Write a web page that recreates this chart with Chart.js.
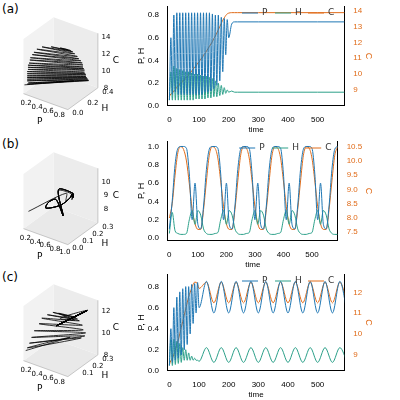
<!DOCTYPE html>
<html><head><meta charset="utf-8">
<script src="https://cdn.jsdelivr.net/npm/chart.js@4/dist/chart.umd.min.js"></script>
<style>
body{margin:0;width:400px;height:400px;background:#fff;position:relative;font-family:"DejaVu Sans";overflow:hidden}
canvas{position:absolute}
.lab{position:absolute;font-size:12px;color:#000}
</style></head><body>
<div class="lab" style="left:2px;top:2px">(a)</div>
<div class="lab" style="left:2px;top:137px">(b)</div>
<div class="lab" style="left:2px;top:270px">(c)</div>
<canvas id="p3a" style="left:2px;top:10px" width="136" height="120"></canvas>
<canvas id="p3b" style="left:2px;top:145px" width="136" height="120"></canvas>
<canvas id="p3c" style="left:2px;top:277px" width="136" height="120"></canvas>
<canvas id="tsa" style="left:136px;top:0" width="238" height="135"></canvas>
<canvas id="tsb" style="left:136px;top:135px" width="238" height="135"></canvas>
<canvas id="tsc" style="left:136px;top:268px" width="238" height="132"></canvas>
<script>
// ---- data (a) ----
const tA=[0,5,10,15,20,25,30,35,40,45,50,55,60,65,70,75,80,85,90,95,100,105,110,115,120,125,130,135,140,145,150,155,160,165,170,175,180,185,190,195,200,210,220,230,300,400,500,600];
const PA=[0.05,0.6,0.1,0.8,0.12,0.82,0.1,0.82,0.1,0.82,0.1,0.82,0.1,0.82,0.1,0.82,0.1,0.82,0.1,0.82,0.1,0.82,0.1,0.82,0.12,0.82,0.12,0.82,0.13,0.81,0.15,0.8,0.18,0.8,0.22,0.78,0.3,0.77,0.45,0.76,0.6,0.72,0.74,0.74,0.74,0.74,0.74,0.74];
const HA=[0.05,0.3,0.05,0.35,0.05,0.33,0.05,0.32,0.05,0.31,0.05,0.3,0.05,0.3,0.05,0.29,0.05,0.28,0.06,0.28,0.06,0.27,0.06,0.26,0.06,0.26,0.07,0.25,0.07,0.24,0.08,0.22,0.08,0.2,0.09,0.18,0.1,0.16,0.11,0.14,0.12,0.13,0.12,0.12,0.12,0.12,0.12,0.12];
const CA=[8.6,8.75,8.8,8.95,9.0,9.2,9.2,9.4,9.4,9.6,9.6,9.8,9.8,10.0,10.05,10.2,10.3,10.45,10.5,10.7,10.75,10.95,11.0,11.2,11.3,11.45,11.6,11.75,11.9,12.05,12.25,12.4,12.6,12.8,13.0,13.2,13.4,13.55,13.7,13.8,13.85,13.88,13.88,13.88,13.88,13.88,13.88,13.88];
// ---- data (b) ----
const tB=[0,10,20,30,40,50,60,70,80,90,100,110,120,130,140,150,160,170,180,190,200,210,220,230,240,250,260,270,280,290,300,310,320,330,340,350,360,370,380,390,400,410,420,430,440,450,460,470,480,490,500,510,520,530,540,550,560,570,580,590];
const PB=[0.1,0.4,0.8,0.98,1.0,1.0,0.98,0.7,0.2,0.6,0.15,0.1,0.35,0.75,0.97,1.0,1.0,0.98,0.7,0.2,0.6,0.15,0.1,0.35,0.75,0.97,1.0,1.0,0.98,0.7,0.2,0.6,0.15,0.1,0.35,0.75,0.97,1.0,1.0,0.98,0.7,0.2,0.6,0.15,0.1,0.35,0.75,0.97,1.0,1.0,0.98,0.7,0.2,0.6,0.15,0.1,0.35,0.75,0.97,1.0];
const HB=[0.05,0.28,0.08,0.05,0.04,0.04,0.05,0.2,0.3,0.15,0.3,0.25,0.1,0.05,0.04,0.04,0.05,0.06,0.2,0.3,0.15,0.3,0.25,0.1,0.05,0.04,0.04,0.05,0.06,0.2,0.3,0.15,0.3,0.25,0.1,0.05,0.04,0.04,0.05,0.06,0.2,0.3,0.15,0.3,0.25,0.1,0.05,0.04,0.04,0.05,0.06,0.2,0.3,0.15,0.3,0.25,0.1,0.05,0.04,0.04];
const CB=[8.0,8.5,9.5,10.3,10.5,10.4,10.0,9.2,8.3,7.8,7.6,7.6,8.3,9.3,10.2,10.5,10.45,10.1,9.3,8.4,7.8,7.6,7.6,8.3,9.3,10.2,10.5,10.45,10.1,9.3,8.4,7.8,7.6,7.6,8.3,9.3,10.2,10.5,10.45,10.1,9.3,8.4,7.8,7.6,7.6,8.3,9.3,10.2,10.5,10.45,10.1,9.3,8.4,7.8,7.6,7.6,8.3,9.3,10.2,10.5];
// ---- data (c) ----
const tC=[0,5,10,15,20,25,30,35,40,45,50,55,60,65,70,75,80,85,90,95,100,125,150,175,200,225,250,275,300,325,350,375,400,425,450,475,500,525,550,575,600];
const PC=[0.05,0.4,0.08,0.6,0.1,0.7,0.12,0.75,0.15,0.78,0.2,0.8,0.25,0.8,0.35,0.82,0.45,0.83,0.55,0.84,0.6,0.85,0.55,0.85,0.55,0.85,0.55,0.85,0.55,0.85,0.55,0.85,0.55,0.85,0.55,0.85,0.55,0.85,0.55,0.85,0.55];
const HC=[0.05,0.3,0.05,0.3,0.06,0.28,0.07,0.26,0.08,0.22,0.1,0.2,0.1,0.17,0.1,0.14,0.1,0.12,0.1,0.1,0.09,0.22,0.08,0.22,0.08,0.22,0.08,0.22,0.08,0.22,0.08,0.22,0.08,0.22,0.08,0.22,0.08,0.22,0.08,0.22,0.08];
const CC=[8.5,8.7,8.8,9.0,9.2,9.5,9.7,10.0,10.3,10.6,10.9,11.2,11.5,11.8,12.0,12.2,12.4,12.5,12.5,12.4,12.2,12.5,11.5,12.5,11.5,12.5,11.5,12.5,11.5,12.5,11.5,12.5,11.5,12.5,11.5,12.5,11.5,12.5,11.5,12.5,11.5];
const xTicks=[0,100,200,300,400,500];
const cTicksA=[9,10,11,12,13,14], cTicksB=[7.5,8,8.5,9,9.5,10,10.5], cTicksC=[9,10,11,12];
const legendNames=['P','H','C'];
const blue='#1f77b4',teal='#2ca089',orange='#e06c1a';

const legendPlugin={id:'leg',afterDatasetsDraw(ch){
  const c=ch.ctx,a=ch.chartArea;c.save();c.font='9px DejaVu Sans';c.textBaseline='middle';
  const cols=[blue,teal,orange];let x=a.left+a.width*0.42,y=a.top+7;
  legendNames.forEach((n,i)=>{c.strokeStyle=cols[i];c.lineWidth=1;c.beginPath();c.moveTo(x,y);c.lineTo(x+16,y);c.stroke();
    c.fillStyle='#333';c.fillText(n,x+20,y);x+=33;});c.restore();}};

function ts(id,t,P,H,C,pyMin,pyMax,pyTicks,cMin,cMax,cTicks,cDec){
  const mk=(v)=>t.map((x,i)=>({x:x,y:v[i]}));
  new Chart(document.getElementById(id),{type:'line',
    data:{datasets:[
      {data:mk(P),borderColor:blue,yAxisID:'y',borderWidth:1,pointRadius:0,cubicInterpolationMode:'monotone'},
      {data:mk(H),borderColor:teal,yAxisID:'y',borderWidth:1,pointRadius:0,cubicInterpolationMode:'monotone'},
      {data:mk(C),borderColor:orange,yAxisID:'y2',borderWidth:1,pointRadius:0,cubicInterpolationMode:'monotone'}]},
    options:{responsive:false,animation:false,layout:{padding:{left:0,right:0,top:6}},
      plugins:{legend:{display:false},tooltip:{enabled:false}},
      scales:{
        x:{type:'linear',min:-5,max:590,afterBuildTicks:a=>{a.ticks=xTicks.map(v=>({value:v}))},ticks:{font:{size:8},color:'#000',maxRotation:0,padding:1},grid:{display:false},border:{color:'#000'},title:{display:true,text:'time',font:{size:8},padding:0,color:'#000'}},
        y:{min:pyMin,max:pyMax,afterBuildTicks:a=>{a.ticks=pyTicks.map(v=>({value:v}))},ticks:{font:{size:8},color:'#000',padding:1,callback:v=>v.toFixed(1)},grid:{display:false},border:{color:'#000'},title:{display:true,text:'P, H',font:{size:9},padding:0,color:'#000'}},
        y2:{position:'right',min:cMin,max:cMax,afterBuildTicks:a=>{a.ticks=cTicks.map(v=>({value:v}))},ticks:{font:{size:8},color:orange,padding:1,callback:v=>cDec?v.toFixed(1):String(v)},grid:{display:false},border:{color:'#000'},title:{display:true,text:'C',font:{size:9},padding:0,color:orange}}
      }},plugins:[legendPlugin]});
}
ts('tsa',tA,PA,HA,CA,0,0.88,[0,0.2,0.4,0.6,0.8],8.0,14.3,cTicksA,false);
ts('tsb',tB,PB,HB,CB,-0.03,1.06,[0,0.2,0.4,0.6,0.8,1.0],7.2,10.7,cTicksB,true);
ts('tsc',tC,PC,HC,CC,0,0.92,[0,0.2,0.4,0.6,0.8],8.2,12.9,cTicksC,false);

// 3D projection
function p3(id,P,H,C,rp,rh,rc,tp,th,tc){
  const proj=(p,h,c)=>{const a=(p-rp[0])/(rp[1]-rp[0]),b=(h-rh[0])/(rh[1]-rh[0]),g=(c-rc[0])/(rc[1]-rc[0]);
    return {x:0.62*a+0.42*b,y:0.75*g-0.22*a+0.3*b};};
  const pts=P.map((p,i)=>proj(p,H[i],C[i]));
  const box={id:'box',beforeDatasetsDraw(ch){
    const c=ch.ctx,xs=ch.scales.x,ys=ch.scales.y;
    const S=(p,h,cc)=>{const q=proj(p,h,cc);return [xs.getPixelForValue(q.x),ys.getPixelForValue(q.y)];};
    const poly=(arr,fill)=>{c.beginPath();arr.forEach((q,i)=>i?c.lineTo(q[0],q[1]):c.moveTo(q[0],q[1]));c.closePath();c.fillStyle=fill;c.fill();};
    const [p0,p1]=rp,[h0,h1]=rh,[c0,c1]=rc;
    poly([S(p0,h0,c0),S(p1,h0,c0),S(p1,h1,c0),S(p0,h1,c0)],'#e9e9e9');
    poly([S(p0,h1,c0),S(p1,h1,c0),S(p1,h1,c1),S(p0,h1,c1)],'#ececec');
    poly([S(p0,h0,c0),S(p0,h1,c0),S(p0,h1,c1),S(p0,h0,c1)],'#f2f2f2');
    c.strokeStyle='#aaa';c.lineWidth=0.6;
    const ln=(a,b)=>{c.beginPath();c.moveTo(a[0],a[1]);c.lineTo(b[0],b[1]);c.stroke();};
    ln(S(p0,h0,c0),S(p1,h0,c0));ln(S(p1,h0,c0),S(p1,h1,c0));ln(S(p1,h1,c0),S(p1,h1,c1));
    c.fillStyle='#000';c.font='7px DejaVu Sans';c.textAlign='center';c.textBaseline='middle';
    tp.forEach(v=>{const q=S(v,h0,c0);c.fillText(v.toFixed(1),q[0]-3,q[1]+8);});
    th.forEach(v=>{const q=S(p1,v,c0);c.fillText(v.toFixed(1),q[0]+10,q[1]+4);});
    tc.forEach(v=>{const q=S(p1,h1,v);c.fillText(String(v),q[0]+8,q[1]);});
    c.font='9px DejaVu Sans';
    let q=S((p0+p1)/2,h0,c0);c.fillText('P',q[0]-6,q[1]+20);
    q=S(p1,(h0+h1)/2,c0);c.fillText('H',q[0]+22,q[1]+10);
    q=S(p1,h1,(c0+c1)/2);c.fillText('C',q[0]+18,q[1]);
  }};
  new Chart(document.getElementById(id),{type:'scatter',
    data:{datasets:[{data:pts,showLine:true,borderColor:'#000',borderWidth:0.8,pointRadius:0,tension:0.3}]},
    options:{responsive:false,animation:false,plugins:{legend:{display:false},tooltip:{enabled:false}},
      scales:{x:{display:false,min:-0.3,max:1.6},y:{display:false,min:-0.5,max:1.15}}},
    plugins:[box]});
}
p3('p3a',PA,HA,CA,[0.1,0.9],[0,0.4],[8,14.5],[0.2,0.4,0.6,0.8],[0,0.2,0.4],[8,10,12,14]);
p3('p3b',PB,HB,CB,[0.1,1.0],[0,0.3],[7,11],[0.2,0.4,0.6,0.8,1.0],[0,0.1,0.2,0.3],[8,9,10]);
p3('p3c',PC,HC,CC,[0.1,0.9],[0,0.3],[8,13],[0.2,0.4,0.6,0.8],[0.1,0.2,0.3],[8,10,12]);
</script></body></html>
